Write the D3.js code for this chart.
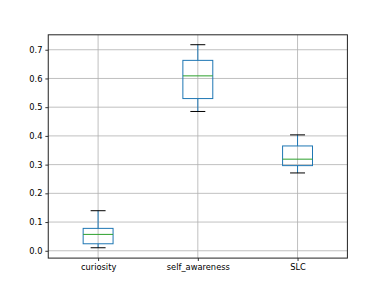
<!DOCTYPE html>
<html lang="en">
<head>
<meta charset="UTF-8">
<title>Boxplot</title>
<style>
  body { margin: 0; background: #fff; }
  svg text { font-family: "DejaVu Sans", sans-serif; font-size: 8.3px; fill: #000; }
</style>
</head>
<body>
<svg id="chart" width="386" height="290"></svg>
<script src="https://d3js.org/d3.v7.min.js"></script>
<script>
// data
var categories = ["curiosity", "self_awareness", "SLC"];
var whiskerLow = [0.0105, 0.485, 0.271];
var q1 = [0.0244, 0.530, 0.2965];
var medians = [0.057, 0.609, 0.319];
var q3 = [0.078, 0.663, 0.365];
var whiskerHigh = [0.1395, 0.7175, 0.4036];
var yTicks = [0.0, 0.1, 0.2, 0.3, 0.4, 0.5, 0.6, 0.7];

var svg = d3.select("#chart"),
    W = 386, H = 290,
    axLeft = 48.25, axRight = 347.4, axTop = 34.8, axBottom = 258.1,
    lw = 1;

var x = d3.scaleLinear().domain([0.5, 3.5]).range([axLeft, axRight]);
var y = d3.scaleLinear().domain([-0.0255, 0.752]).range([axBottom, axTop]);

svg.append("rect").attr("width", W).attr("height", H).attr("fill", "#fff");

// grid
var grid = svg.append("g").attr("stroke", "#b0b0b0").attr("stroke-width", 0.8);
yTicks.forEach(function (t) {
  grid.append("line").attr("x1", axLeft).attr("x2", axRight).attr("y1", y(t)).attr("y2", y(t));
});
categories.forEach(function (c, i) {
  grid.append("line").attr("x1", x(i + 1)).attr("x2", x(i + 1)).attr("y1", axTop).attr("y2", axBottom);
});

// boxes
var bw = 0.3, cw = 0.15;
var boxes = svg.append("g");
categories.forEach(function (c, i) {
  var p = i + 1, g = boxes.append("g");
  // whiskers
  g.append("line").attr("x1", x(p)).attr("x2", x(p)).attr("y1", y(q1[i])).attr("y2", y(whiskerLow[i]))
    .attr("stroke", "#1f77b4").attr("stroke-width", lw);
  g.append("line").attr("x1", x(p)).attr("x2", x(p)).attr("y1", y(q3[i])).attr("y2", y(whiskerHigh[i]))
    .attr("stroke", "#1f77b4").attr("stroke-width", lw);
  // caps
  [whiskerLow[i], whiskerHigh[i]].forEach(function (v) {
    g.append("line").attr("x1", x(p - cw / 2)).attr("x2", x(p + cw / 2)).attr("y1", y(v)).attr("y2", y(v))
      .attr("stroke", "#000").attr("stroke-width", lw);
  });
  g.append("rect").attr("x", x(p - bw / 2)).attr("width", x(p + bw / 2) - x(p - bw / 2))
    .attr("y", y(q3[i])).attr("height", y(q1[i]) - y(q3[i]))
    .attr("fill", "none").attr("stroke", "#1f77b4").attr("stroke-width", lw);
  g.append("line").attr("x1", x(p - bw / 2)).attr("x2", x(p + bw / 2)).attr("y1", y(medians[i])).attr("y2", y(medians[i]))
    .attr("stroke", "#2ca02c").attr("stroke-width", lw);
});

// axes
var yAxis = d3.axisLeft(y).tickValues(yTicks).tickFormat(d3.format(".1f")).tickSizeOuter(0).tickSize(2.9).tickPadding(2.9);
var xAxis = d3.axisBottom(x).tickValues([1, 2, 3]).tickFormat(function (d) { return categories[d - 1]; })
  .tickSizeOuter(0).tickSize(2.9).tickPadding(2.9);

var ya = svg.append("g").attr("transform", "translate(" + axLeft + ",0)").call(yAxis);
var xa = svg.append("g").attr("transform", "translate(0," + axBottom + ")").call(xAxis);
[ya, xa].forEach(function (a) {
  a.select(".domain").remove();
  a.selectAll("line").attr("stroke", "#000").attr("stroke-width", 0.8);
  a.selectAll("text").attr("font-family", "DejaVu Sans").attr("font-size", 8.3).attr("fill", "#000");
});

// frame
svg.append("rect").attr("x", axLeft).attr("y", axTop).attr("width", axRight - axLeft).attr("height", axBottom - axTop)
  .attr("fill", "none").attr("stroke", "#222").attr("stroke-width", 1);
</script>
</body>
</html>
